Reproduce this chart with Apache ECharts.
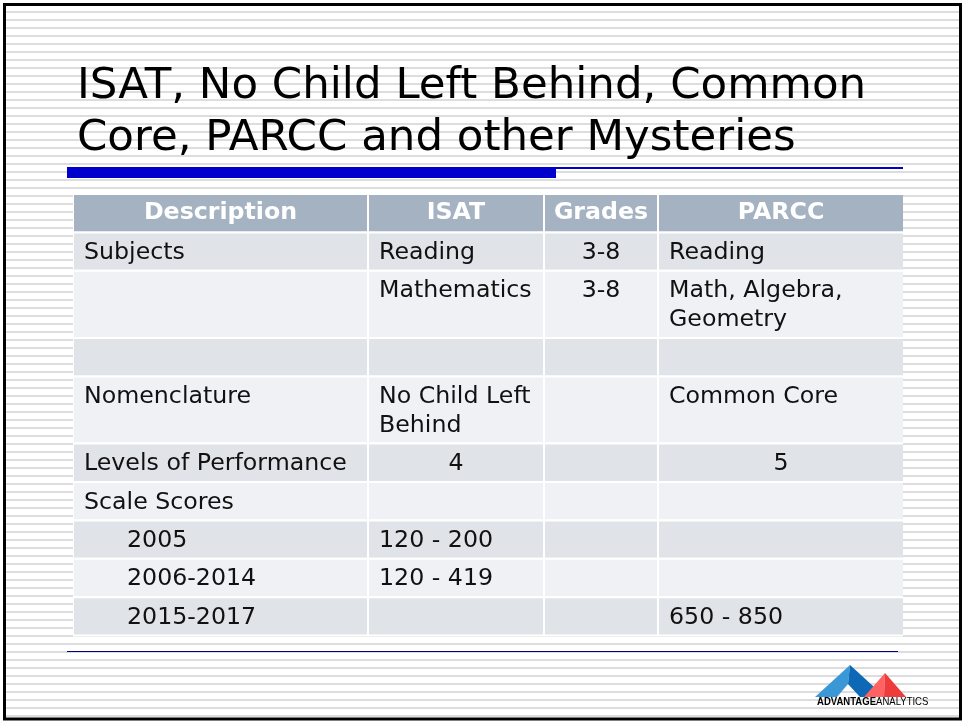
<!DOCTYPE html>
<html>
<head>
<meta charset="utf-8">
<script src="https://cdn.jsdelivr.net/npm/echarts@6/dist/echarts.min.js"></script>
<style>html,body{margin:0;padding:0;background:#fff}#chart{width:963px;height:721px}</style>
</head>
<body>
<div id="chart"></div>
<script>
// ---- data ----
const titleLines = ['ISAT, No Child Left Behind, Common', 'Core, PARCC and other Mysteries'];
const headers = ['Description', 'ISAT', 'Grades', 'PARCC'];
const descCol = ['Subjects', '', '', 'Nomenclature', 'Levels of Performance', 'Scale Scores', '2005', '2006-2014', '2015-2017'];
const isatCol = ['Reading', 'Mathematics', '', 'No Child Left\nBehind', '4', '', '120 - 200', '120 - 419', ''];
const gradesCol = ['3-8', '3-8', '', '', '', '', '', '', ''];
const parccCol = ['Reading', 'Math, Algebra,\nGeometry', '', 'Common Core', '5', '', '', '', '650 - 850'];
const colWeights = [295, 176, 114, 244];
const indentRows = ['2005', '2006-2014', '2015-2017'];
const centeredCells = ['4', '5'];

// ---- build table ----
const bodyCols = [descCol, isatCol, gradesCol, parccCol];
const rows = [headers].concat(descCol.map((_, i) => bodyCols.map(c => c[i])));
const rowLines = rows.map(r => Math.max.apply(null, r.map(t => t.split('\n').length)));
const rowHeights = rowLines.map(n => 9.6 + 28.8 * n);
const yBounds = [0];
rowHeights.forEach(h => yBounds.push(yBounds[yBounds.length - 1] + h));
const xBounds = [0];
colWeights.forEach(w => xBounds.push(xBounds[xBounds.length - 1] + w));
const cells = [];
rows.forEach((r, ri) => r.forEach((t, ci) => {
  cells.push([xBounds[ci], xBounds[ci + 1], yBounds[ri], yBounds[ri + 1], ri, ci]);
}));

const FONT = '"DejaVu Sans", Verdana, sans-serif';
const HEAD = '#a4b2c2', DARK = '#e0e3e8', LIGHT = '#eff1f4';
const FS = 23.7;

const graphics = [];
for (let y = 11; y < 718; y += 8) {
  graphics.push({type: 'rect', z: 0, shape: {x: 6, y: y, width: 955, height: 2}, style: {fill: '#dddddd'}, silent: true});
}
graphics.push({type: 'rect', z: 1, shape: {x: 67, y: 167, width: 489, height: 11}, style: {fill: '#0000cc'}});
graphics.push({type: 'rect', z: 1, shape: {x: 556, y: 167, width: 347, height: 2}, style: {fill: '#0000cc'}});
graphics.push({type: 'rect', z: 1, shape: {x: 67, y: 651, width: 831, height: 1}, style: {fill: '#000080'}});
// logo
graphics.push({type: 'polygon', z: 5, shape: {points: [[815, 697], [850, 665], [848, 684], [837, 697]]}, style: {fill: '#3a98d6'}});
graphics.push({type: 'polygon', z: 5, shape: {points: [[850, 665], [885, 697], [860, 697], [848, 684]]}, style: {fill: '#0d68b5'}});
graphics.push({type: 'polygon', z: 6, shape: {points: [[864, 697], [885, 673], [884, 697]]}, style: {fill: '#ff6262'}});
graphics.push({type: 'polygon', z: 6, shape: {points: [[885, 673], [906, 697], [884, 697]]}, style: {fill: '#ee3b3b'}});
graphics.push({type: 'text', z: 7, x: 817, y: 696, scaleX: 0.83, style: {
  text: '{b|ADVANTAGE}{r|ANALYTICS}', verticalAlign: 'top',
  rich: {b: {fontFamily: '"Liberation Sans", Arial', fontWeight: 'bold', fontSize: 11.5, fill: '#000'},
         r: {fontFamily: '"Liberation Sans", Arial', fontSize: 11.5, fill: '#000'}}}});
graphics.push({type: 'rect', z: 20, shape: {x: 4.5, y: 4.5, width: 956, height: 714.5}, style: {fill: 'none', stroke: '#000', lineWidth: 3}});

const chart = echarts.init(document.getElementById('chart'), null, {renderer: 'canvas'});
chart.setOption({
  animation: false,
  backgroundColor: '#fff',
  title: {
    text: titleLines.join('\n'), left: 77, top: 61, padding: 0, z: 10,
    textStyle: {fontFamily: FONT, fontSize: 43.5, fontWeight: 'normal', color: '#000', lineHeight: 52}
  },
  graphic: {elements: graphics},
  grid: {left: 74, top: 195, width: 829, height: yBounds[yBounds.length - 1]},
  xAxis: {type: 'value', min: 0, max: xBounds[xBounds.length - 1], show: false},
  yAxis: {type: 'value', min: 0, max: yBounds[yBounds.length - 1], inverse: true, show: false},
  series: [{
    type: 'custom', z: 5,
    data: cells,
    renderItem: function (params, api) {
      const x0 = api.value(0), x1 = api.value(1), y0 = api.value(2), y1 = api.value(3);
      const ri = api.value(4), ci = api.value(5);
      const p0 = api.coord([x0, y0]), p1 = api.coord([x1, y1]);
      const w = p1[0] - p0[0], h = p1[1] - p0[1];
      const text = rows[ri][ci];
      const fill = ri === 0 ? HEAD : (ri % 2 === 1 ? DARK : LIGHT);
      let align = 'left', tx = p0[0] + 10;
      if (ri === 0 || ci === 2 || centeredCells.indexOf(text) >= 0) { align = 'center'; tx = p0[0] + (w - (ci < 3 ? 2 : 0)) / 2; }
      else if (ci === 0 && indentRows.indexOf(text) >= 0) { tx = p0[0] + 53; }
      const children = [
        {type: 'rect', shape: {x: p0[0] - 1, y: p0[1] - 2, width: w + 1, height: h + 2}, style: {fill: '#fff'}},
        {type: 'rect', shape: {x: p0[0], y: p0[1], width: w - (ci < 3 ? 2 : 0), height: h - 2}, style: {fill: fill}}
      ];
      if (text) {
        children.push({type: 'text', style: ri === 0 ? {
          text: text, x: tx, y: p0[1] + (h - 2) / 2, align: 'center', verticalAlign: 'middle',
          fill: '#fff', fontFamily: FONT, fontSize: FS, fontWeight: 'bold'
        } : {
          text: text, x: tx, y: p0[1] + 5, align: align, verticalAlign: 'top',
          fill: '#111', fontFamily: FONT, fontSize: FS, lineHeight: 28.8
        }});
      }
      return {type: 'group', children: children};
    }
  }]
});
</script>
</body>
</html>
